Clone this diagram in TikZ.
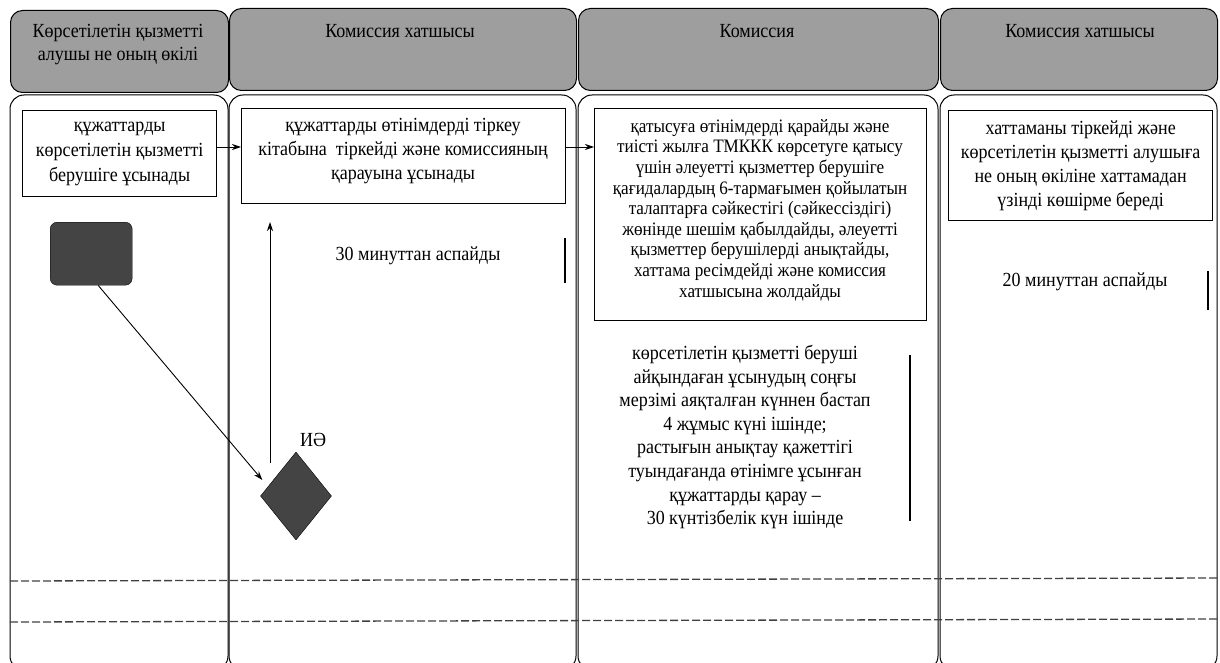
\documentclass[tikz,border=0pt]{standalone}
\usepackage{fontspec}
\setmainfont[FakeStretch=0.9]{Liberation Serif}
\usetikzlibrary{shapes.geometric,arrows.meta,calc}
\definecolor{hdrgray}{RGB}{158,158,158}
\definecolor{darkfill}{RGB}{68,68,68}
\begin{document}
\begin{tikzpicture}[x=1pt,y=-1pt,
  lane/.style={draw, line width=1pt, rounded corners=14pt},
  hdr/.style={draw, line width=1pt, fill=hdrgray, rounded corners=12pt, minimum height=82pt, anchor=north west, inner sep=0},
  box/.style={draw, line width=1.3pt, anchor=north west, inner sep=0, fill=white},
  txt/.style={font=\fontsize{20}{24}\selectfont, align=center, inner sep=0},
  arr/.style={-{Stealth[length=9pt,width=6pt]}, line width=0.9pt},
  tick/.style={line width=1.2pt},
  sep/.style={dash pattern=on 8pt off 3pt, line width=1.3pt, draw=black!75}]
\useasboundingbox (0,0) rectangle (1220,663);
\clip (0,0) rectangle (1220,663);
% header lanes
\node[hdr, minimum width=218pt] (h1) at (10,10) {};
\node[hdr, minimum width=347pt] (h2) at (229,8) {};
\node[hdr, minimum width=360pt] (h3) at (578,8) {};
\node[hdr, minimum width=277pt] (h4) at (940,8) {};
\node[txt, font=\fontsize{20}{23}\selectfont] (t1) at (118,45) {Көрсетілетін қызметті\\алушы не оның өкілі};
\node[txt] (t2) at (400,31) {Комиссия хатшысы};
\node[txt] (t3) at (757,31) {Комиссия};
\node[txt] (t4) at (1080,31) {Комиссия хатшысы};
% body lanes
\draw[lane] (10,95) rectangle (228,670);
\draw[lane] (229,95) rectangle (576,670);
\draw[lane] (578,95) rectangle (938,670);
\draw[lane] (940,95) rectangle (1217,670);
% dashed separators
\draw[sep] (10,581) -- (1220,578);
\draw[sep] (10,622) -- (1220,619);
% boxes
\node[box, minimum width=194pt, minimum height=86pt] (A) at (22,110) {};
\node[txt, font=\fontsize{20}{25}\selectfont] (At) at (A.center) {құжаттарды\\көрсетілетін қызметті\\берушіге ұсынады};
\node[box, minimum width=324pt, minimum height=95pt] (B) at (241,108) {};
\node[txt, anchor=north] (Bt) at (403,118) {құжаттарды өтінімдерді тіркеу\\кітабына\ \ тіркейді және комиссияның\\қарауына ұсынады};
\node[box, minimum width=332pt, minimum height=212pt] (C) at (594,108) {};
\node[txt, font=\fontsize{19}{20.6}\selectfont] (Ct) at (760,210) {қатысуға өтінімдерді қарайды және\\тиісті жылға ТМККК көрсетуге қатысу\\үшін әлеуетті қызметтер берушіге\\қағидалардың 6-тармағымен қойылатын\\талаптарға сәйкестігі (сәйкессіздігі)\\жөнінде шешім қабылдайды, әлеуетті\\қызметтер берушілерді анықтайды,\\хаттама ресімдейді және комиссия\\хатшысына жолдайды};
\node[box, minimum width=264pt, minimum height=110pt] (D) at (948,110) {};
\node[txt] (Dt) at (D.center) {хаттаманы тіркейді және\\көрсетілетін қызметті алушыға\\не оның өкіліне хаттамадан\\үзінді көшірме береді};
% start and decision
\node[draw, fill=darkfill, rounded corners=7pt, minimum width=82pt, minimum height=63pt, anchor=north west, inner sep=0] (S) at (50,222) {};
\node[draw, fill=darkfill, diamond, minimum width=71pt, minimum height=88pt, inner sep=0] (G) at (296,496) {};
\node[txt] (ie) at (313,440) {ИӘ};
\coordinate (u1) at (270,463);
\coordinate (u2) at (270,222);
% connectors
\draw[arr] (A.east |- 0,147) -- (B.west |- 0,147);
\draw[arr] (B.east |- 0,147) -- (C.west |- 0,147);
\draw[arr] ([xshift=7pt]S.south) -- ([shift={(2,-16)}]G.west);
\draw[arr] (u1) -- (u2);
% timings
\node[txt] (m2) at (418,256) {30 минуттан аспайды};
\coordinate (k2a) at (565,238); \coordinate (k2b) at (565,283);
\draw[tick] (k2a) -- (k2b);
\node[txt, font=\fontsize{20}{23.6}\selectfont] (m3) at (745,437) {көрсетілетін қызметті беруші\\айқындаған ұсынудың соңғы\\мерзімі аяқталған күннен бастап\\4 жұмыс күні ішінде;\\растығын анықтау қажеттігі\\туындағанда өтінімге ұсынған\\құжаттарды қарау –\\30 күнтізбелік күн ішінде};
\coordinate (k3a) at (910,355); \coordinate (k3b) at (910,521);
\draw[tick] (k3a) -- (k3b);
\node[txt] (m4) at (1085,282) {20 минуттан аспайды};
\coordinate (k4a) at (1208,271); \coordinate (k4b) at (1208,310);
\draw[tick] (k4a) -- (k4b);
\end{tikzpicture}
\end{document}
